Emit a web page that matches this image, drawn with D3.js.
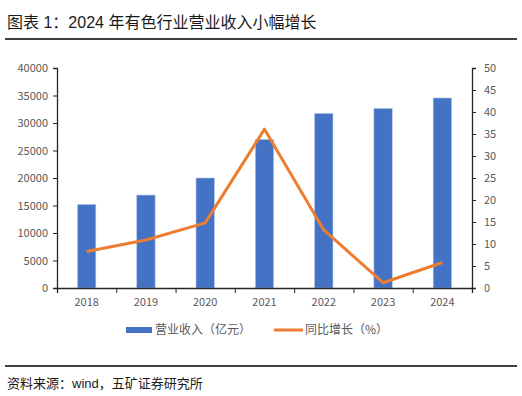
<!DOCTYPE html>
<html>
<head>
<meta charset="utf-8">
<script src="https://cdn.jsdelivr.net/npm/d3@7"></script>
<style>
  body { margin: 0; background: #fff; }
  svg { display: block; }
</style>
</head>
<body>
<div id="chart"></div>
<script>
// data
var years = ['2018', '2019', '2020', '2021', '2022', '2023', '2024'];
var revenue = [15200, 16900, 20000, 27000, 31750, 32650, 34550];
var growth = [8.3, 10.9, 14.8, 36.1, 13.2, 1.2, 5.8];
var leftTicks = [0, 5000, 10000, 15000, 20000, 25000, 30000, 35000, 40000];
var rightTicks = [0, 5, 10, 15, 20, 25, 30, 35, 40, 45, 50];

var w = 522, h = 396;
var font = '"Noto Sans CJK SC", "Liberation Sans", sans-serif';
var titleFont = '"Liberation Sans", "Noto Sans CJK SC", sans-serif';

var svg = d3.select('#chart').append('svg')
  .attr('width', w)
  .attr('height', h);

// title + rules
svg.append('text')
  .attr('x', 7).attr('y', 28)
  .attr('font-family', titleFont)
  .attr('font-size', 16)
  .attr('fill', '#1a1a1a')
  .text('图表 1：2024 年有色行业营业收入小幅增长');

svg.append('line')
  .attr('x1', 5).attr('x2', 517)
  .attr('y1', 39).attr('y2', 39)
  .attr('stroke', '#000').attr('stroke-width', 1.5);

svg.append('line')
  .attr('x1', 5).attr('x2', 517)
  .attr('y1', 366).attr('y2', 366)
  .attr('stroke', '#000').attr('stroke-width', 1.5);

svg.append('text')
  .attr('x', 7).attr('y', 388)
  .attr('font-family', titleFont)
  .attr('font-size', 13)
  .attr('fill', '#1a1a1a')
  .text('资料来源：wind，五矿证券研究所');

// plot area
var x = d3.scaleBand().domain(years).range([57, 472]).paddingInner(0.69).paddingOuter(0.345);
var yL = d3.scaleLinear().domain([0, 40000]).range([288, 68]);
var yR = d3.scaleLinear().domain([0, 50]).range([288, 68]);

svg.selectAll('.bar')
  .data(revenue)
  .enter().append('rect')
  .attr('class', 'bar')
  .attr('x', function (d, i) { return x(years[i]); })
  .attr('width', x.bandwidth())
  .attr('y', function (d) { return yL(d); })
  .attr('height', function (d) { return yL(0) - yL(d); })
  .attr('fill', '#4472C4')
  .attr('stroke', '#b4c7e7')
  .attr('stroke-width', 0.6);

var line = d3.line()
  .x(function (d, i) { return x(years[i]) + x.bandwidth() / 2; })
  .y(function (d) { return yR(d); });

svg.append('path')
  .datum(growth)
  .attr('d', line)
  .attr('fill', 'none')
  .attr('stroke', '#ED7D31')
  .attr('stroke-width', 3)
  .attr('stroke-linejoin', 'round');

// axes
var xAxisScale = d3.scalePoint().domain(d3.range(years.length + 1)).range([57, 472]);

svg.append('g')
  .attr('transform', 'translate(57,0)')
  .call(d3.axisLeft(yL).tickValues(leftTicks).tickSize(4).tickPadding(5).tickFormat(d3.format('d')));

svg.append('g')
  .attr('transform', 'translate(472,0)')
  .call(d3.axisRight(yR).tickValues(rightTicks).tickSize(4).tickPadding(8));

svg.append('g')
  .attr('transform', 'translate(0,288)')
  .call(d3.axisBottom(xAxisScale).tickSize(5).tickFormat(''));

svg.append('g')
  .attr('transform', 'translate(0,288)')
  .call(d3.axisBottom(x).tickSize(0).tickPadding(10))
  .call(function (g) { g.select('.domain').remove(); });

svg.selectAll('.domain').attr('stroke', '#262626').attr('stroke-width', 1.3);
svg.selectAll('.tick line').attr('stroke', '#262626');
svg.selectAll('.tick text')
  .attr('font-family', font)
  .attr('font-size', 11)
  .attr('fill', '#595959');

// legend
var legend = svg.append('g').attr('font-family', font).attr('font-size', 12).attr('fill', '#595959');

legend.append('rect')
  .attr('x', 126).attr('y', 327)
  .attr('width', 26).attr('height', 6)
  .attr('fill', '#4472C4');
legend.append('text')
  .attr('x', 155).attr('y', 334)
  .text('营业收入（亿元）');

legend.append('line')
  .attr('x1', 274).attr('x2', 303)
  .attr('y1', 330).attr('y2', 330)
  .attr('stroke', '#ED7D31').attr('stroke-width', 3);
legend.append('text')
  .attr('x', 305).attr('y', 334)
  .text('同比增长（%）');
</script>
</body>
</html>
